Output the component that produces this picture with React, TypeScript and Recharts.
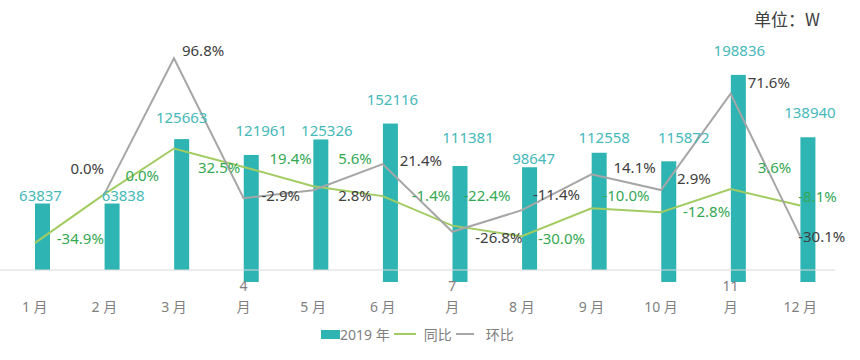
import { ComposedChart, Bar, Line, XAxis, YAxis, LabelList } from 'recharts';

const months = ['1 月', '2 月', '3 月', '4\n月', '5 月', '6 月', '7\n月', '8 月', '9 月', '10 月', '11\n月', '12 月'];
const sales2019 = [63837, 63838, 125663, 121961, 125326, 152116, 111381, 98647, 112558, 115872, 198836, 138940];
const yoy = [-34.9, 0.0, 32.5, 19.4, 5.6, -1.4, -22.4, -30.0, -10.0, -12.8, 3.6, -8.1];
const mom = [null, 0.0, 96.8, -2.9, 2.8, 21.4, -26.8, -11.4, 14.1, 2.9, 71.6, -30.1];

const data = months.map((m, i) => ({
  month: m,
  sales: sales2019[i],
  yoy: yoy[i],
  mom: mom[i],
}));

const FONT = '"Noto Sans", "Noto Sans CJK SC", sans-serif';
const TEAL = '#2FB4B4';
const GREEN_LINE = '#A2CC62';
const GREEN_TEXT = '#34A853';
const GREY_LINE = '#A6A6A6';
const GREY_TEXT = '#404040';

// bars sit a little right of the category centre; some are dropped below the axis line
const BAR_SHIFT = 8;
const DROP = 12;
const dropped = [3, 5, 6, 9, 10, 11];

// hand placed label nudges, [dx, dy] per month
const barLabelPos = [[-2, -9], [11, -9], [0, -22], [10, -25], [6, -9], [2, -25], [8, -29], [4, -9], [5, -16], [15, -24], [1, -25], [2, -25]];
const yoyLabelPos = [[22, -5], [21, -19], [24, 18], [26, -9], [25, -28], [29, -1], [11, -31], [16, 2], [11, -13], [22, -1], [27, -22], [-2, -10]];
const momLabelPos = [[0, 0], [-34, -26], [8, -8], [18, -3], [25, 5], [17, -4], [23, 5], [11, -16], [22, -7], [16, -12], [17, -12], [-2, 0]];

const BarShape = (props: any) => {
  const { x, y, width, height, index } = props;
  const d = dropped.includes(index) ? DROP : 0;
  return <rect x={x + BAR_SHIFT} y={y + d} width={width} height={height} fill={TEAL} />;
};

const BarLabel = (props: any) => {
  const { x, y, width, value, index } = props;
  const d = dropped.includes(index) ? DROP : 0;
  const [dx, dy] = barLabelPos[index] || [0, -9];
  return (
    <text
      x={x + BAR_SHIFT + width / 2 + dx}
      y={y + d + dy}
      textAnchor="middle"
      dominantBaseline="central"
      fill="#45B9B9"
      fontSize={15}
      fontFamily={FONT}
    >
      {value}
    </text>
  );
};

const pctLabel = (color: string, pos: number[][]) => (props: any) => {
  const { x, y, value, index } = props;
  if (value === null || value === undefined) return null;
  const [dx, dy] = pos[index] || [10, -4];
  return (
    <text x={x + dx} y={y + dy} textAnchor="start" dominantBaseline="central" fill={color} fontSize={15} fontFamily={FONT}>
      {value.toFixed(1)}%
    </text>
  );
};

const MonthTick = (props: any) => {
  const { x, y, payload } = props;
  const parts = String(payload.value).split('\n');
  return (
    <g>
      {parts.length > 1 ? (
        <>
          <text x={x} y={y + 13} textAnchor="middle" fill="#7F7F7F" fontSize={14} fontFamily={FONT}>{parts[0]}</text>
          <text x={x} y={y + 34} textAnchor="middle" fill="#7F7F7F" fontSize={14} fontFamily={FONT}>{parts[1]}</text>
        </>
      ) : (
        <text x={x} y={y + 34} textAnchor="middle" fill="#7F7F7F" fontSize={14} fontFamily={FONT}>{parts[0]}</text>
      )}
    </g>
  );
};

export default function App() {
  return (
    <div style={{ position: 'absolute', left: 0, top: 0, width: 860, height: 360, background: '#fff', fontFamily: FONT }}>
      <ComposedChart width={860} height={360} data={data} margin={{ top: 20, right: 25, left: 0, bottom: 60 }}>
        <XAxis
          dataKey="month"
          axisLine={{ stroke: '#D9D9D9' }}
          tickLine={false}
          tick={<MonthTick />}
          height={30}
          interval={0}
        />
        <YAxis yAxisId="left" hide domain={[0, 240000]} />
        <YAxis yAxisId="right" hide orientation="right" domain={[-54, 124]} />
        <Bar yAxisId="left" dataKey="sales" barSize={15} shape={<BarShape />} isAnimationActive={false}>
          <LabelList dataKey="sales" content={<BarLabel />} />
        </Bar>
        <Line yAxisId="right" dataKey="yoy" stroke={GREEN_LINE} strokeWidth={2} dot={false} isAnimationActive={false}>
          <LabelList dataKey="yoy" content={pctLabel(GREEN_TEXT, yoyLabelPos)} />
        </Line>
        <Line yAxisId="right" dataKey="mom" stroke={GREY_LINE} strokeWidth={2} dot={false} isAnimationActive={false}>
          <LabelList dataKey="mom" content={pctLabel(GREY_TEXT, momLabelPos)} />
        </Line>
      </ComposedChart>
      <div style={{ position: 'absolute', left: 754, top: 6, fontSize: 17, color: GREY_TEXT, fontFamily: '"Noto Sans CJK SC", sans-serif' }}>
        单位：W
      </div>
      <div style={{ position: 'absolute', left: 321, top: 324, display: 'flex', alignItems: 'center', fontSize: 14, color: '#7F7F7F', fontFamily: FONT, whiteSpace: 'nowrap' }}>
        <span style={{ display: 'inline-block', width: 19, height: 9, background: TEAL }} />
        <span>2019 年</span>
        <span style={{ display: 'inline-block', width: 22, height: 2, background: GREEN_LINE, margin: '0 8px 0 4px' }} />
        <span>同比</span>
        <span style={{ display: 'inline-block', width: 18, height: 2, background: GREY_LINE, margin: '0 12px 0 4px' }} />
        <span>环比</span>
      </div>
    </div>
  );
}
